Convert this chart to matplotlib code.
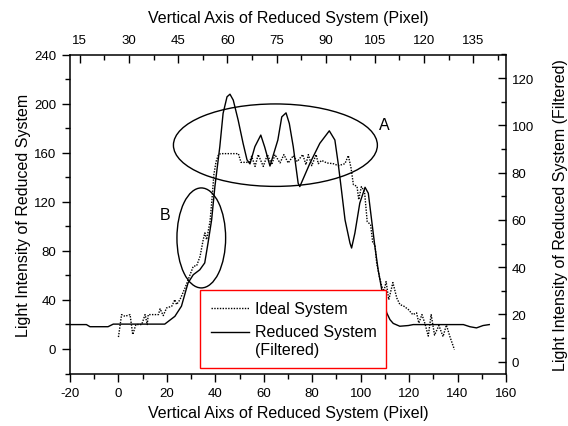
import matplotlib
matplotlib.use("Agg")
import matplotlib.pyplot as plt
from matplotlib.patches import Ellipse
from matplotlib.ticker import MultipleLocator
from matplotlib.legend_handler import HandlerLine2D

plt.rcParams['font.family'] = ['Liberation Sans', 'DejaVu Sans']
plt.rcParams['axes.unicode_minus'] = False

# Ideal system: bottom x axis / left y axis
ideal_x = [0.0, 1.3, 2.7, 4.8, 5.9, 7.2, 9.6, 11.0, 11.9, 12.3, 16.5, 17.2, 18.5, 19.9,
           22.0, 23.3, 24.0, 25.4, 27.5, 28.8, 30.9, 32.3, 33.7, 35.0, 35.7, 36.4, 37.8,
           38.6, 39.4, 40.3, 41.3, 42.2, 49.5, 50.6, 54.0, 55.0, 56.4, 57.7, 59.8, 61.5,
           63.3, 64.6, 66.7, 68.3, 70.1, 72.2, 73.8, 76.1, 77.4, 78.4, 79.8, 81.6, 82.5,
           83.9, 86.0, 88.7, 90.8, 93.5, 94.9, 96.0, 97.0, 98.5, 99.2, 100.3, 101.6, 102.7,
           104.1, 105.0, 105.9, 106.6, 107.7, 108.7, 109.6, 110.5, 111.6, 113.3, 114.9,
           116.2, 117.9, 119.7, 121.5, 123.1, 124.0, 125.3, 126.6, 127.9, 129.1, 130.5,
           132.3, 134.0, 135.4, 136.9, 138.7]
ideal_y = [9.7, 28.0, 26.6, 28.0, 11.7, 19.9, 19.9, 28.0, 19.9, 28.0, 28.0, 32.7, 27.2, 33.5,
           34.8, 40.2, 36.2, 40.2, 49.8, 56.5, 67.4, 67.9, 75.5, 89.1, 94.6, 89.1, 103.8,
           121.7, 142.1, 152.7, 158.4, 159.2, 159.2, 152.1, 152.1, 157.0, 148.8, 158.4,
           148.8, 158.4, 150.2, 158.4, 151.6, 158.4, 151.6, 157.6, 152.7, 158.4, 150.2,
           158.4, 149.4, 158.4, 151.0, 153.7, 151.6, 151.0, 149.4, 151.0, 157.6, 147.8,
           133.9, 132.5, 121.7, 132.3, 128.2, 103.8, 101.3, 86.4, 85.1, 70.1, 59.2, 51.1,
           47.0, 54.9, 40.2, 54.1, 41.6, 36.2, 34.8, 32.1, 28.0, 29.4, 21.1, 28.0, 20.3,
           10.5, 28.0, 11.3, 19.1, 10.1, 19.5, 9.7, -0.5]

# Reduced system (filtered): top x axis / right y axis
reduced_x = [12.3, 17.0, 18.1, 23.6, 25.2, 40.9, 44.0, 46.0, 48.0, 49.6, 51.6, 53.1, 54.1,
             55.2, 56.2, 57.7, 58.7, 59.9, 60.8, 61.8, 63.3, 64.8, 66.0, 66.9, 68.4, 70.2,
             71.4, 73.0, 75.4, 76.6, 77.9, 78.9, 80.1, 81.6, 82.1, 85.2, 88.2, 91.1, 92.8,
             93.8, 94.8, 95.9, 97.4, 97.9, 98.9, 100.4, 102.0, 103.0, 104.0, 105.0, 106.0,
             107.1, 108.6, 109.6, 110.6, 112.6, 115.2, 116.7, 132.0, 134.0, 136.0, 138.0,
             139.9]
reduced_y = [15.7, 15.7, 14.8, 14.8, 15.9, 15.9, 19.2, 23.5, 33.3, 36.8, 38.9, 41.8, 50.2,
             60.0, 74.1, 91.0, 105.1, 112.1, 113.2, 110.7, 102.2, 92.4, 85.4, 83.7, 91.0,
             95.9, 90.8, 82.8, 93.8, 103.6, 105.3, 100.8, 91.0, 75.5, 74.1, 84.0, 92.4,
             97.7, 93.8, 84.0, 72.7, 60.0, 50.2, 48.1, 54.4, 67.1, 73.8, 71.3, 60.0, 48.8,
             38.9, 30.5, 20.7, 17.8, 16.2, 15.0, 15.3, 15.7, 15.7, 14.8, 14.3, 15.3, 15.7]


class FirstLineHandler(HandlerLine2D):
    # put the legend line next to the first line of a two-line label
    def create_artists(self, legend, orig_handle, xdescent, ydescent, width, height,
                       fontsize, trans):
        return super().create_artists(legend, orig_handle, xdescent,
                                      ydescent - 1.15 * fontsize, width, height,
                                      fontsize, trans)


W, H = 568, 427
fig = plt.figure(figsize=(W / 100, H / 100), dpi=100)
rect = [70 / W, 1 - 374.5 / H, 436 / W, 319 / H]
ax = fig.add_axes(rect)
ax2 = fig.add_axes(rect, frameon=False)

l1, = ax.plot(ideal_x, ideal_y, color='black', linestyle=(0, (1, 1)), lw=1.0,
              label='Ideal System')
l2, = ax2.plot(reduced_x, reduced_y, color='black', lw=1.0,
               label='Reduced System\n(Filtered)')

ax.set_xlim(-20, 160)
ax.set_ylim(-20, 240)
ax2.set_xlim(12, 145)
ax2.set_ylim(-5, 130)

ax.xaxis.set_major_locator(MultipleLocator(20))
ax.xaxis.set_minor_locator(MultipleLocator(10))
ax.yaxis.set_major_locator(MultipleLocator(40))
ax.yaxis.set_minor_locator(MultipleLocator(20))
ax2.xaxis.set_major_locator(MultipleLocator(15))
ax2.xaxis.set_minor_locator(MultipleLocator(7.5))
ax2.yaxis.set_major_locator(MultipleLocator(20))
ax2.yaxis.set_minor_locator(MultipleLocator(10))

ax2.xaxis.tick_top()
ax2.yaxis.tick_right()
ax2.xaxis.set_label_position('top')
ax2.yaxis.set_label_position('right')

for a, d in ((ax, 'out'), (ax2, 'in')):
    a.tick_params(which='major', direction=d, length=6, width=1, labelsize=9.5, pad=4)
    a.tick_params(which='minor', direction=d, length=3.5, width=1)
ax2.tick_params(axis='x', which='major', pad=6)
for s in ax.spines.values():
    s.set_linewidth(1.1)

ax.set_xlabel('Vertical Aixs of Reduced System (Pixel)', fontsize=11.5, labelpad=4)
ax.set_ylabel('Light Intensity of Reduced System', fontsize=11.5, labelpad=2)
ax2.set_xlabel('Vertical Axis of Reduced System (Pixel)', fontsize=11.5, labelpad=9)
ax2.set_ylabel('Light Intensity of Reduced System (Filtered)', fontsize=11.5, labelpad=14)

ax.add_patch(Ellipse((64.8, 166.1), 84.2, 67.2, fill=False, color='black', lw=1.0))
ax.add_patch(Ellipse((34.2, 90.5), 20.1, 81.5, fill=False, color='black', lw=1.0))
ax.text(109.6, 182.8, 'A', fontsize=11.5, ha='center', va='center')
ax.text(19.2, 109.5, 'B', fontsize=11.5, ha='center', va='center')

leg = ax2.legend(handles=[l1, l2], loc='upper left',
                 bbox_to_anchor=(199.5 / W, 1 - 366.3 / H, 186 / W, 75 / H),
                 bbox_transform=fig.transFigure, mode='expand',
                 fancybox=False, edgecolor='red', framealpha=1, borderaxespad=0,
                 fontsize=11.5, handlelength=2.4, handletextpad=0.4,
                 labelspacing=0.5, borderpad=0.7,
                 handler_map={l2: FirstLineHandler()})
leg.get_frame().set_linewidth(1.0)

fig.savefig('out.png', dpi=100)
